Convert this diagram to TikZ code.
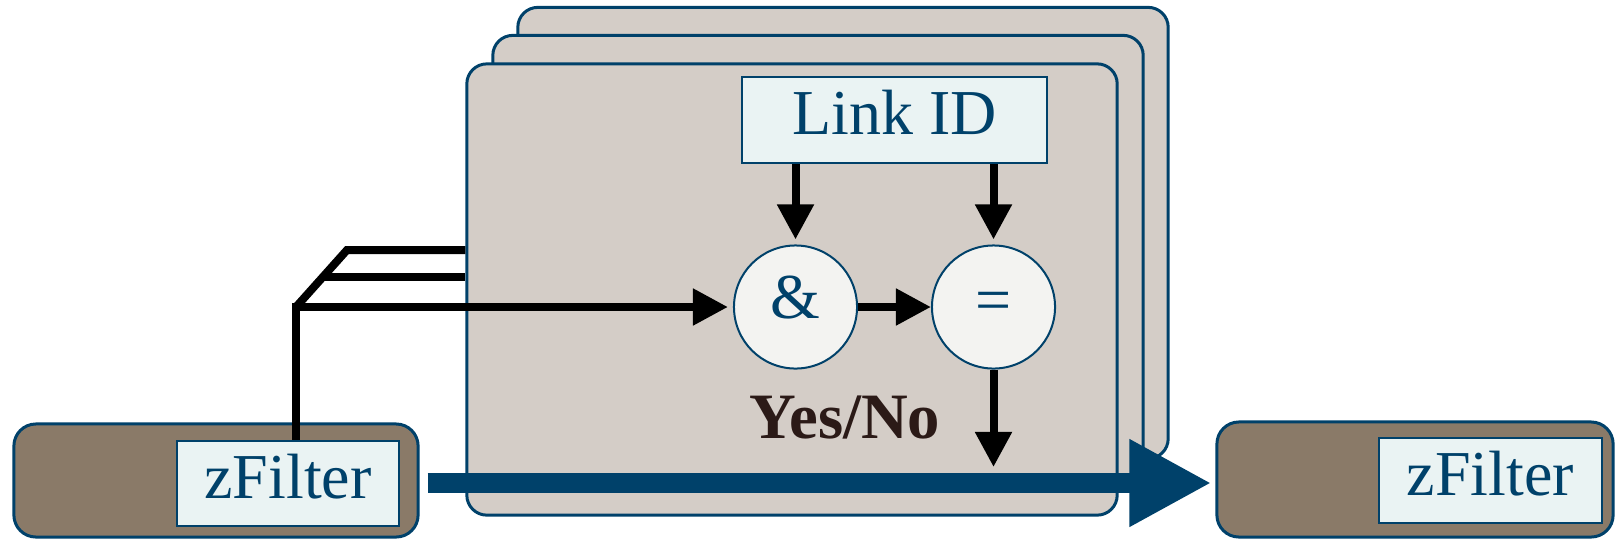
\documentclass[tikz,border=0pt]{standalone}
\usepackage{fontspec}
\setmainfont{Liberation Serif}
\usetikzlibrary{arrows.meta}
\definecolor{cardfill}{HTML}{D4CDC7}
\definecolor{edgeblue}{HTML}{00416A}
\definecolor{idfill}{HTML}{EAF3F3}
\definecolor{opfill}{HTML}{F3F3F1}
\definecolor{hostfill}{HTML}{8A7A68}
\definecolor{ynbrown}{HTML}{2B1A17}
\begin{document}
\begin{tikzpicture}[x=0.01cm,y=-0.01cm,
  card/.style={draw=edgeblue,line width=0.03cm,fill=cardfill,rounded corners=0.2cm,
    minimum width=6.5cm,minimum height=4.51cm},
  host/.style={draw=edgeblue,line width=0.03cm,fill=hostfill,rounded corners=0.22cm},
  tag/.style={draw=edgeblue,line width=0.02cm,fill=idfill,text=edgeblue,inner sep=0pt,
    font=\fontsize{18.2pt}{20pt}\selectfont,text height=0.85em,text depth=0pt},
  op/.style={circle,draw=edgeblue,line width=0.02cm,fill=opfill,text=edgeblue,
    minimum size=1.23cm,inner sep=0pt,font=\fontsize{18.2pt}{20pt}\selectfont},
  wire/.style={line width=0.08cm},
  arr/.style={-{Triangle[length=0.35cm,width=0.35cm]}},
  flow/.style={draw=edgeblue,line width=0.2cm,-{Triangle[length=0.82cm,width=0.82cm]}}]
\useasboundingbox (0,0) rectangle (1616,539);
% stacked cards
\node[card] (cardC) at (843,233) {};
\node[card] (cardB) at (818,261) {};
\node[card] (cardA) at (792,289.5) {};
% hosts
\node[host,minimum width=4.04cm,minimum height=1.13cm] (lbox) at (216,480.5) {};
\node[host,minimum width=3.96cm,minimum height=1.15cm] (rbox) at (1415,479.5) {};
\node[tag,minimum width=2.22cm,minimum height=0.85cm] (lzf) at (288,483.5) {zFilter};
\node[tag,minimum width=2.23cm,minimum height=0.85cm] (rzf) at (1490.5,480.5) {zFilter};
\node[tag,minimum width=3.05cm,minimum height=0.86cm] (link) at (894.5,120) {Link ID};
\node[op,text height=0.68em,text depth=0pt] (and) at (795.5,307) {\&};
\node[op] (eq) at (993.5,307) {=};
\node[font=\bfseries\fontsize{18.4pt}{20pt}\selectfont,text=ynbrown,anchor=base,inner sep=0pt]
  (yesno) at (845,438) {Yes/No};
% bus
\coordinate (bend) at (296,307);
\coordinate (bustop) at (347,250);
\path (bend) -- (bustop) coordinate[pos=0.52] (busmid);
\draw[wire] (bend) -- (bustop) -- (bustop -| cardA.west);
\draw[wire] (busmid) -- (busmid -| cardA.west);
\draw[wire,arr,shorten >=0.05cm] (bend |- lzf.north) |- (and.west);
\draw[wire,arr,shorten >=0.05cm] (link.south -| and) -- (and);
\draw[wire,arr,shorten >=0.05cm] (link.south -| eq) -- (eq);
\draw[wire,arr] (and) -- (eq);
\coordinate (hit) at (993.5,467);
\draw[wire,arr] (eq) -- (hit);
\draw[flow] ([shift={(8,2.5)}]lbox.east) -- ([shift={(-4,3.5)}]rbox.west);
\end{tikzpicture}
\end{document}
